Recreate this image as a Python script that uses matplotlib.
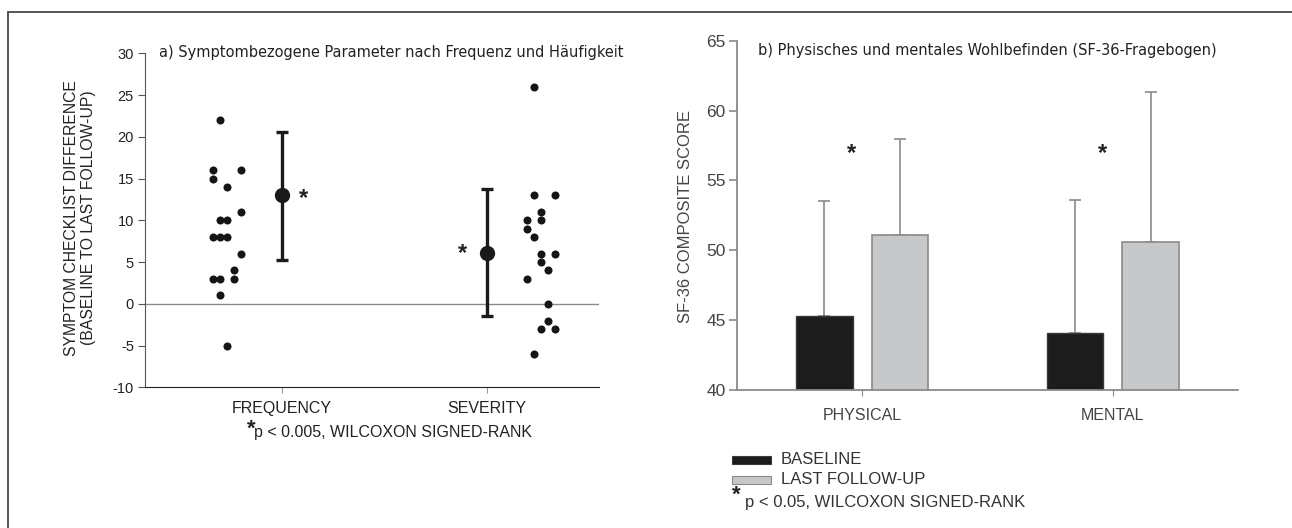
import numpy as np
import matplotlib
matplotlib.use('Agg')
from matplotlib import pyplot as plt
from matplotlib.patches import Rectangle
from matplotlib.lines import Line2D

plt.rcParams['font.family'] = ['Liberation Sans', 'DejaVu Sans']
plt.rcParams['axes.unicode_minus'] = False

# a) individual differences, column = jitter slot
freq_vals = [22, 16, 15, 16, 14, 11, 10, 10, 8, 8, 8, 6, 4, 3, 3, 3, 1, -5]
freq_col = [1, 0, 0, 4, 2, 4, 1, 2, 0, 1, 2, 4, 3, 0, 1, 3, 1, 2]
sev_vals = [26, 13, 13, 11, 10, 10, 9, 8, 6, 6, 5, 4, 3, 0, -2, -3, -3, -6]
sev_col = [1, 1, 4, 2, 0, 2, 0, 1, 2, 4, 2, 3, 0, 3, 3, 2, 4, 1]
groups_a = ['FREQUENCY', 'SEVERITY']
means_a = [13.0, 6.1]
lo_a = [5.3, -1.5]
hi_a = [20.6, 13.8]

# b) SF-36 composite
groups_b = ['PHYSICAL', 'MENTAL']
baseline = [45.3, 44.1]
followup = [51.1, 50.6]
baseline_top = [53.5, 53.6]
followup_top = [58.0, 61.3]

W, H = 1292, 528
def fx(x): return x / W
def fy(y): return 1 - y / H

fig = plt.figure(figsize=(W / 100, H / 100), dpi=100)

# frame (top and left edge only)
fig.add_artist(Line2D([fx(8), 1], [fy(12), fy(12)], color='#555555', lw=1.4))
fig.add_artist(Line2D([fx(8), fx(8)], [fy(12), 0], color='#555555', lw=1.4))

title_kw = dict(family='DejaVu Sans', fontstretch='condensed', fontsize=11.7,
                va='center', ha='left', color='#222222')

# ---------- panel a ----------
ax = fig.add_axes([fx(145), fy(387.3), fx(599) - fx(145), fy(53.3) - fy(387.3)])
step = 0.0335
fx_pos = [1 - 0.333 + c * step for c in freq_col]
sx_pos = [2 + 0.198 + c * step for c in sev_col]
ax.plot(fx_pos, freq_vals, 'o', color='#151515', ms=5.8, mew=0)
ax.plot(sx_pos, sev_vals, 'o', color='#151515', ms=5.8, mew=0)
xa = np.array([1, 2])
m = np.array(means_a)
ax.errorbar(xa, m, yerr=[m - np.array(lo_a), np.array(hi_a) - m], fmt='o', color='#1a1a1a',
            ms=10, elinewidth=2.4, capsize=4.3, capthick=2.4, zorder=3)
ax.axhline(0, color='#8a8a8a', lw=1.0, zorder=1)
ax.text(1.104, 12.6, '*', fontsize=17, fontweight='bold', ha='center', va='center', color='#222222')
ax.text(1.881, 6.0, '*', fontsize=17, fontweight='bold', ha='center', va='center', color='#222222')
ax.set_xlim(0.333, 2.548)
ax.set_ylim(-10, 30)
ax.set_yticks(np.arange(-10, 31, 5))
ax.set_xticks(xa)
ax.set_xticklabels(groups_a)
for s in ['top', 'right']:
    ax.spines[s].set_visible(False)
ax.spines['left'].set_color('#555555')
ax.spines['bottom'].set_color('#222222')
ax.tick_params(axis='y', length=5, color='#555555', labelsize=10.5, labelcolor='#222222', pad=3)
ax.tick_params(axis='x', length=4, color='#999999', labelsize=11.5, labelcolor='#222222', pad=6)

fig.text(fx(159), fy(52), 'a) Symptombezogene Parameter nach Frequenz und Häufigkeit', **title_kw)
fig.text(fx(80), fy(218), 'SYMPTOM CHECKLIST DIFFERENCE\n(BASELINE TO LAST FOLLOW-UP)',
         rotation=90, ha='center', va='center', multialignment='center', fontsize=11.3,
         color='#222222', linespacing=1.2)
fig.text(fx(246.7), fy(429), '*', fontsize=16, fontweight='bold', ha='left', va='center', color='#222222')
fig.text(fx(254), fy(433), 'p < 0.005, WILCOXON SIGNED-RANK', fontsize=11.5, ha='left', va='center',
         color='#222222')

# ---------- panel b ----------
bx = fig.add_axes([fx(736.7), fy(390), fx(1238.3) - fx(736.7), fy(40.7) - fy(390)])
xb = np.arange(len(groups_b))
bw = 0.225
off = 0.15
b0 = np.array(baseline)
b1 = np.array(followup)
bx.bar(xb - off, b0, bw, color='#1c1c1c', edgecolor='#3a3a3a', lw=1.0, zorder=2)
bx.bar(xb + off, b1, bw, color='#c7c8ca', edgecolor='#8a8a8a', lw=1.2, zorder=2)
bx.errorbar(xb - off, b0, yerr=[np.zeros(2), np.array(baseline_top) - b0], fmt='none',
            ecolor='#8a8a8a', elinewidth=1.2, capsize=4, capthick=1.2, zorder=1)
bx.errorbar(xb + off, b1, yerr=[np.zeros(2), np.array(followup_top) - b1], fmt='none',
            ecolor='#8a8a8a', elinewidth=1.2, capsize=4, capthick=1.2, zorder=1)
for xi in xb:
    bx.text(xi - 0.042, 56.9, '*', fontsize=17, fontweight='bold', ha='center', va='center',
            color='#222222')
bx.set_xlim(-0.5, 1.5)
bx.set_ylim(40, 65)
bx.set_yticks(np.arange(40, 66, 5))
bx.set_xticks(xb)
bx.set_xticklabels(groups_b)
for s in ['top', 'right']:
    bx.spines[s].set_visible(False)
bx.spines['left'].set_color('#8a8a8a')
bx.spines['bottom'].set_color('#8a8a8a')
bx.spines['left'].set_linewidth(1.3)
bx.spines['bottom'].set_linewidth(1.3)
bx.tick_params(axis='y', length=6, color='#8a8a8a', width=1.2, labelsize=12.5, labelcolor='#444444', pad=2)
bx.tick_params(axis='x', length=4, color='#8a8a8a', labelsize=11.5, labelcolor='#444444', pad=9)

fig.text(fx(758), fy(51), 'b) Physisches und mentales Wohlbefinden (SF-36-Fragebogen)', **title_kw)
fig.text(fx(685), fy(216), 'SF-36 COMPOSITE SCORE', rotation=90, ha='center', va='center',
         fontsize=12, color='#444444')

# legend
fig.add_artist(Rectangle((fx(732), fy(464)), fx(771) - fx(732), fy(456) - fy(464),
                         facecolor='#1c1c1c', edgecolor='#3a3a3a', lw=0.8))
fig.add_artist(Rectangle((fx(732), fy(484)), fx(771) - fx(732), fy(476) - fy(484),
                         facecolor='#c7c8ca', edgecolor='#8a8a8a', lw=0.8))
fig.text(fx(781), fy(460), 'BASELINE', fontsize=12, ha='left', va='center', color='#333333')
fig.text(fx(781), fy(480), 'LAST FOLLOW-UP', fontsize=12, ha='left', va='center', color='#333333')
fig.text(fx(732), fy(495), '*', fontsize=16, fontweight='bold', ha='left', va='center', color='#222222')
fig.text(fx(745), fy(503), 'p < 0.05, WILCOXON SIGNED-RANK', fontsize=12, ha='left', va='center',
         color='#333333')

fig.savefig('out.png', dpi=100)
